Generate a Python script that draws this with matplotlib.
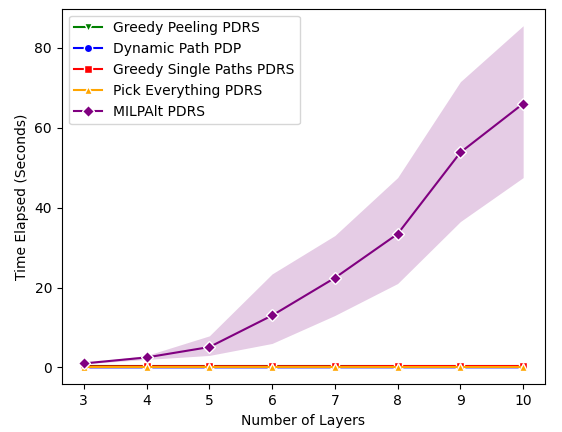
import matplotlib
matplotlib.use("Agg")
import matplotlib.pyplot as plt

layers = [3, 4, 5, 6, 7, 8, 9, 10]
greedy_peeling = [0.3, 0.3, 0.3, 0.3, 0.3, 0.3, 0.3, 0.3]
dynamic_path = [0.02, 0.02, 0.02, 0.02, 0.03, 0.03, 0.03, 0.03]
greedy_single = [0.25, 0.3, 0.3, 0.3, 0.3, 0.35, 0.35, 0.35]
pick_everything = [0.01, 0.01, 0.01, 0.01, 0.01, 0.01, 0.01, 0.01]
milp_mean = [1.0, 2.5, 5.1, 13.0, 22.4, 33.4, 53.8, 66.0]
milp_lo = [0.9, 2.0, 3.0, 6.0, 13.0, 21.0, 36.5, 47.5]
milp_hi = [1.1, 3.0, 7.9, 23.4, 33.0, 47.5, 71.5, 85.5]

fig, ax = plt.subplots(figsize=(5.62, 4.32), dpi=100)
kw = dict(markeredgecolor="white", markersize=6, linewidth=1.5)
ax.plot(layers, greedy_peeling, color="green", marker="v", label="Greedy Peeling PDRS", **kw)
ax.plot(layers, dynamic_path, color="blue", marker="o", label="Dynamic Path PDP", **kw)
ax.plot(layers, greedy_single, color="red", marker="s", label="Greedy Single Paths PDRS", **kw)
ax.plot(layers, pick_everything, color="orange", marker="^", label="Pick Everything PDRS", **kw)
ax.fill_between(layers, milp_lo, milp_hi, color="purple", alpha=0.2, linewidth=0)
ax.plot(layers, milp_mean, color="purple", marker="D", label="MILPAlt PDRS", **kw)
ax.set_xlabel("Number of Layers")
ax.set_ylabel("Time Elapsed (Seconds)")
ax.set_yticks([0, 20, 40, 60, 80])
ax.legend(loc="upper left")
fig.subplots_adjust(left=0.11, right=0.97, bottom=0.11, top=0.98)
fig.savefig("out.png")
